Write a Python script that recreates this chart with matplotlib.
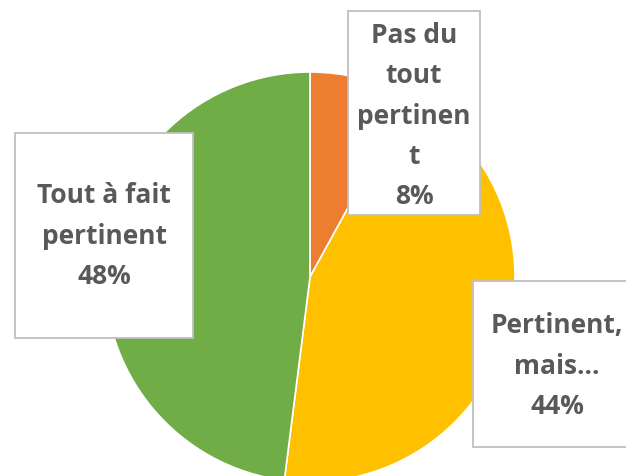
import matplotlib.pyplot as plt
from matplotlib.patches import Rectangle

labels = ['Pas du\ntout\npertinen\nt', 'Pertinent,\nmais…', 'Tout à fait\npertinent']
values = [8, 44, 48]
colors = ['#ED7D31', '#FFC000', '#70AD47']

W, H = 626, 476

fig = plt.figure(figsize=(W / 100, H / 100), dpi=100)

# pie: centre (310, 277) px, radius 205 px
cx, cy, r = 310, 277, 205
ax = fig.add_axes([(cx - r) / W, (H - cy - r) / H, 2 * r / W, 2 * r / H])
ax.pie(values, colors=colors, startangle=90, counterclock=False,
       wedgeprops=dict(edgecolor='white', linewidth=1.2))
ax.set_aspect('equal')
ax.set_xlim(-1, 1)
ax.set_ylim(-1, 1)

# overlay in pixel coordinates for the label boxes
ov = fig.add_axes([0, 0, 1, 1])
ov.set_xlim(0, W)
ov.set_ylim(H, 0)
ov.axis('off')

boxes = [(348, 11, 132, 204), (473, 281, 170, 166), (15, 133, 178, 205)]
text_pos = [(414, 116), (557, 366), (104, 236)]

for lab, val, (x, y, w, h), (tx, ty) in zip(labels, values, boxes, text_pos):
    ov.add_patch(Rectangle((x, y), w, h, facecolor='white', edgecolor='#BFBFBF',
                           linewidth=1.3, clip_on=False))
    ov.text(tx, ty, '%s\n%d%%' % (lab, val), ha='center', va='center',
            fontsize=19, fontweight='bold', color='#595959',
            family='Open Sans', linespacing=1.62)

fig.savefig('out.png', dpi=100)
